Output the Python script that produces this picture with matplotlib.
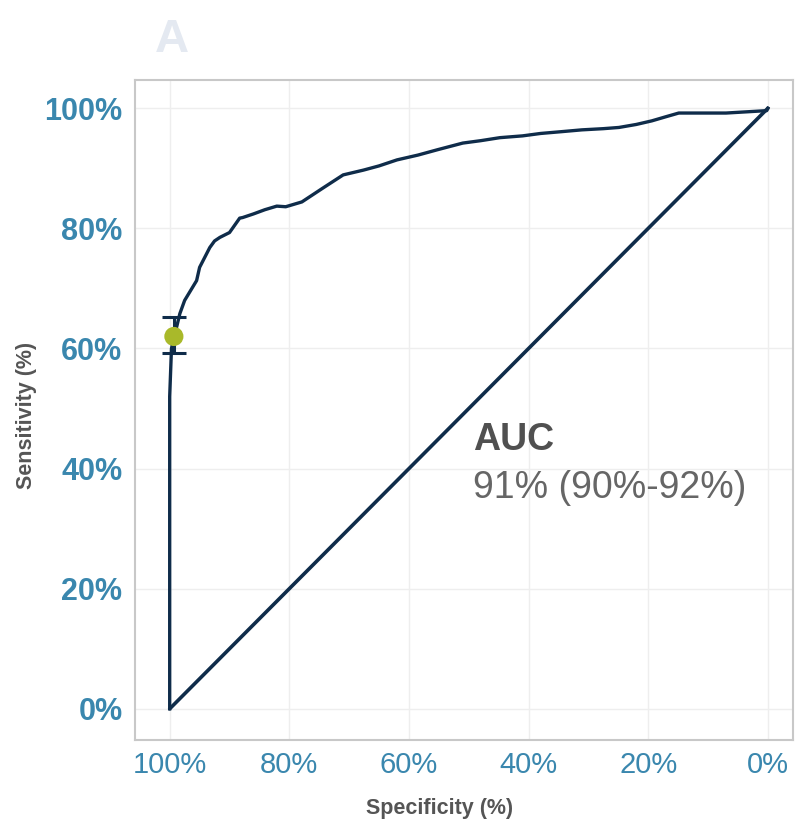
import matplotlib.pyplot as plt

plt.rcParams['font.family'] = ['Liberation Sans', 'DejaVu Sans']

# ROC curve (specificity %, sensitivity %)
spec = [100, 100, 99.7, 98.3, 97.5, 95.5, 95.0, 93.3, 92.5, 91.6, 90.0, 88.3, 87.8,
        86.0, 84.1, 82.1, 80.6, 77.9, 74.4, 71.0, 67.6, 65.0, 62.0, 58.5,
        55.2, 51.0, 48.0, 44.8, 41.0, 38.0, 34.5, 31.1, 27.5, 24.9, 22.0,
        19.4, 17.0, 14.9, 7.0, 0.2, 0]
sens = [0, 52, 60, 65.8, 68.0, 71.3, 73.5, 76.8, 77.9, 78.5, 79.3, 81.7, 81.8,
        82.4, 83.1, 83.7, 83.6, 84.4, 86.7, 88.9, 89.7, 90.4, 91.4, 92.2,
        93.1, 94.2, 94.6, 95.1, 95.4, 95.8, 96.1, 96.4, 96.6, 96.8, 97.3,
        97.9, 98.6, 99.2, 99.2, 99.6, 100]

# chance line
diag_spec = [100, 0]
diag_sens = [0, 100]

# operating point with CI on sensitivity
pt_spec = 99.3
pt_sens = 62.0
pt_lo = 59.2
pt_hi = 65.3

auc_text = "91% (90%-92%)"
ticks = [0, 20, 40, 60, 80, 100]
tick_labels = [f"{t}%" for t in ticks]

navy = '#0f2c4a'
tick_col = '#3a87ae'

fig = plt.figure(figsize=(7.95, 8.30), dpi=100)
ax = fig.add_axes([0.1698, 0.1084, 0.8277, 0.7952])

ax.plot(diag_spec, diag_sens, color=navy, lw=2.6, solid_capstyle='round', zorder=3)
ax.plot(spec, sens, color=navy, lw=2.4, solid_joinstyle='round', zorder=3)
ax.errorbar([pt_spec], [pt_sens], yerr=[[pt_sens - pt_lo], [pt_hi - pt_sens]],
            fmt='none', ecolor=navy, elinewidth=2.2, capsize=8.3, capthick=2.2, zorder=4)
ax.scatter([pt_spec], [pt_sens], s=190, color='#a9b92a', edgecolor='none', zorder=5)

ax.text(49.3, 44.7, "AUC", fontsize=27, fontweight='bold', color='#505050',
        va='center', ha='left')
ax.text(49.3, 36.8, auc_text, fontsize=27, color='#666666',
        va='center', ha='left')

ax.set_xlim(105.8, -4.2)
ax.set_ylim(-5.2, 104.7)
ax.set_xticks(ticks)
ax.set_xticklabels(tick_labels)
ax.set_yticks(ticks)
ax.set_yticklabels(tick_labels)
ax.tick_params(axis='both', length=0, colors=tick_col)
ax.tick_params(axis='x', labelsize=21, pad=8)
ax.tick_params(axis='y', labelsize=22, pad=9)
for lab in ax.get_yticklabels():
    lab.set_fontweight('bold')

ax.grid(True, color='#eeeeee', lw=1.0, zorder=0)
ax.set_axisbelow(True)
for s in ax.spines.values():
    s.set_color('#c8c8c8')
    s.set_linewidth(1.5)

ax.set_xlabel("Specificity (%)", fontsize=15.5, fontweight='bold', color='#555555')
ax.set_ylabel("Sensitivity (%)", fontsize=15.5, fontweight='bold', color='#555555')
ax.xaxis.set_label_coords(0.4635, -0.088)
ax.yaxis.set_label_coords(-0.149, 0.492)

fig.text(0.195, 0.978, "A", fontsize=34, fontweight='bold', color='#e4e9f1', va='top')

fig.savefig('out.png', dpi=100)
